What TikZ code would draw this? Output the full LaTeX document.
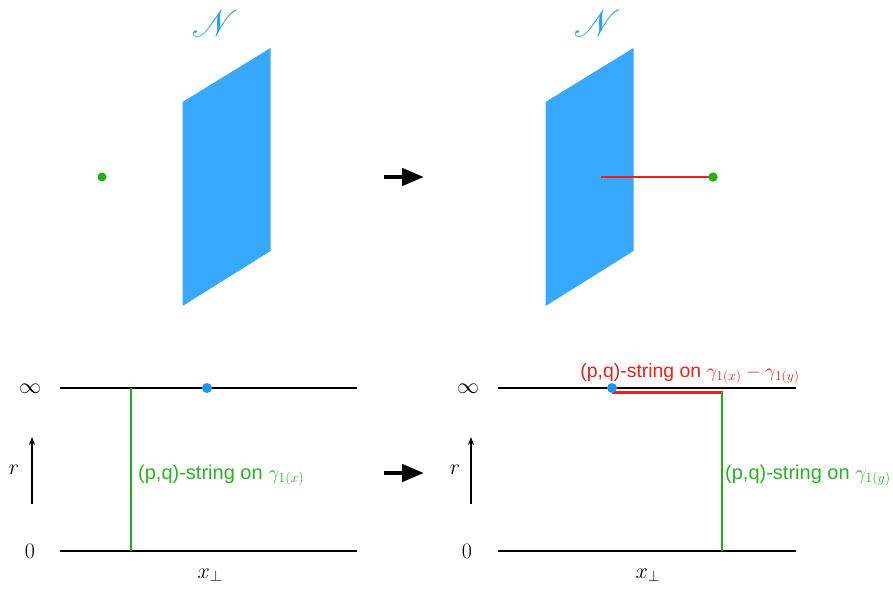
\RequirePackage{fix-cm}
\documentclass[tikz,border=0pt]{standalone}
\usepackage{fontspec}
\setmainfont{Liberation Sans}
\IfFileExists{mathrsfs.sty}{\usepackage{mathrsfs}}{\newcommand\mathscr{\mathcal}}
\usepackage{graphicx}
\usetikzlibrary{arrows.meta}
\definecolor{planeblue}{RGB}{54,169,255}
\definecolor{nblue}{RGB}{38,158,250}
\definecolor{dotgreen}{RGB}{30,176,20}
\definecolor{txtgreen}{RGB}{40,180,30}
\definecolor{strred}{RGB}{240,30,20}
\definecolor{dotblue}{RGB}{30,150,240}
\tikzset{
  plane/.style={fill=planeblue, draw=none},
  nlabel/.style={text=nblue, inner sep=0pt, scale=1.8},
  gdot/.style={circle, fill=dotgreen, inner sep=0pt, minimum size=9pt},
  bdot/.style={circle, fill=dotblue, inner sep=0pt, minimum size=10pt},
  bigarrow/.style={line width=4.5pt, -{Triangle[length=22pt,width=17pt]}},
  axisline/.style={line width=1.8pt, black},
  rarrow/.style={line width=1.2pt, -{Stealth[length=8pt,width=6pt]}},
  greenstr/.style={line width=2pt, dotgreen},
  redstr/.style={line width=2.8pt, strred},
  lbl/.style={inner sep=0pt, font=\fontsize{20}{24}\selectfont},
  rlbl/.style={inner sep=0pt, font=\fontsize{19.4}{23}\selectfont},
  mlbl/.style={inner sep=0pt, font=\fontsize{22}{26}\selectfont}
}
\begin{document}
\begin{tikzpicture}[x=1pt,y=-1pt]
\useasboundingbox (0,0) rectangle (893,591);

% ---------- top left ----------
\fill[plane] (182.5,102) -- (270.5,48) -- (270.5,251) -- (182.5,306) -- cycle;
\node[nlabel] (N1) at (215,23) {\fontsize{20}{24}\selectfont$\mathscr{N}$};
\node[gdot] (g1) at (102,177) {};

% top arrow
\coordinate (ta1) at (384,177);
\coordinate (ta2) at (424,177);
\draw[bigarrow] (ta1) -- (ta2);

% ---------- top right ----------
\fill[plane] (545.5,102) -- (633.5,48) -- (633.5,251) -- (545.5,306) -- cycle;
\node[nlabel] (N2) at (597,23) {\fontsize{20}{24}\selectfont$\mathscr{N}$};
\node[gdot] (g2) at (713,177) {};
\coordinate (rs) at (601,177);
\draw[redstr] (rs) -- (g2.center);
\node[gdot] at (713,177) {};

% ---------- bottom left ----------
\coordinate (L1a) at (60,388);
\coordinate (L1b) at (357,388);
\coordinate (L0a) at (60,551);
\coordinate (L0b) at (357,551);
\draw[axisline] (L1a) -- (L1b);
\draw[axisline] (L0a) -- (L0b);
\node[mlbl] (inf1) at (30,389) {$\infty$};
\node[mlbl] (zero1) at (30,551) {$0$};
\coordinate (ra1) at (32,504);
\coordinate (rb1) at (32,437);
\draw[rarrow] (ra1) -- (rb1);
\node[mlbl] (r1) at (14,470) {$r$};
\coordinate (gs1) at (131,388);
\coordinate (ge1) at (131,551);
\draw[greenstr] (gs1) -- (ge1);
\node[bdot] (b1) at (207,388) {};
\node[lbl, text=txtgreen, anchor=base west] (lab1) at (138,479) {(p,q)-string on $\gamma_{1(x)}$};
\node[mlbl] (xp1) at (210,575) {$x_\perp$};

% bottom arrow
\coordinate (ba1) at (384,473);
\coordinate (ba2) at (424,473);
\draw[bigarrow] (ba1) -- (ba2);

% ---------- bottom right ----------
\coordinate (R1a) at (498,388);
\coordinate (R1b) at (796,388);
\coordinate (R0a) at (498,551);
\coordinate (R0b) at (796,551);
\draw[axisline] (R1a) -- (R1b);
\draw[axisline] (R0a) -- (R0b);
\node[mlbl] (inf2) at (468,389) {$\infty$};
\node[mlbl] (zero2) at (467,551) {$0$};
\coordinate (ra2) at (471,504);
\coordinate (rb2) at (471,437);
\draw[rarrow] (ra2) -- (rb2);
\node[mlbl] (r2) at (455,470) {$r$};
\coordinate (rr1) at (612,392.5);
\coordinate (rr2) at (723,392.5);
\draw[redstr] (rr1) -- (rr2);
\coordinate (gs2) at (722,392);
\coordinate (ge2) at (722,551);
\draw[greenstr] (gs2) -- (ge2);
\node[bdot] (b2) at (612,388) {};
\node[rlbl, text=strred, anchor=base] (lab3) at (690,377) {(p,q)-string on $\gamma_{1(x)}-\gamma_{1(y)}$};
\node[lbl, text=txtgreen, anchor=base west] (lab2) at (725,479) {(p,q)-string on $\gamma_{1(y)}$};
\node[mlbl] (xp2) at (648,575) {$x_\perp$};
\end{tikzpicture}
\end{document}
